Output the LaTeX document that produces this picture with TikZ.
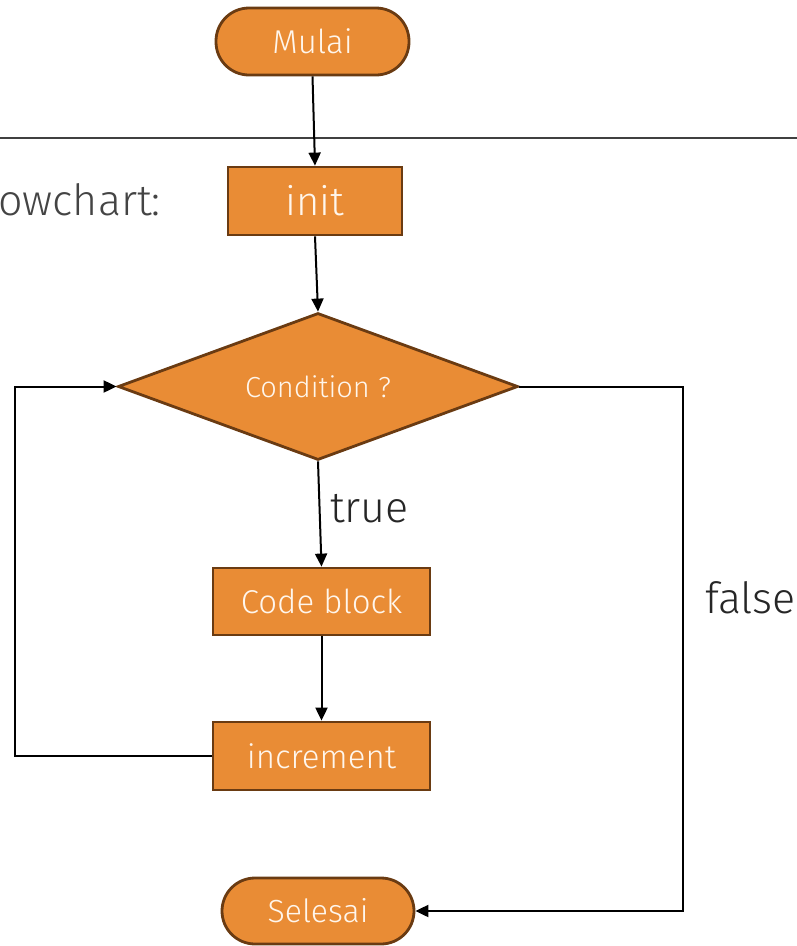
\documentclass[tikz,border=0pt]{standalone}
\usepackage{fontspec}
\setmainfont{Fira Sans Light}
\usetikzlibrary{shapes.geometric,arrows.meta}
\definecolor{boxfill}{HTML}{E98C35}
\definecolor{boxline}{HTML}{6A3B12}
\definecolor{rulegray}{HTML}{404040}
\definecolor{labgray}{HTML}{444444}
\definecolor{boxtext}{HTML}{FFF6EC}
\begin{document}
\begin{tikzpicture}[x=1pt,y=-1pt,
  box/.style={draw=boxline,fill=boxfill,line width=2.8pt,text=boxtext,inner sep=0pt,rectangle,font=\fontsize{33}{36}\selectfont},
  stadium/.style={box,rounded corners=33pt},
  decision/.style={draw=boxline,fill=boxfill,line width=2.8pt,text=boxtext,inner sep=0pt,diamond,aspect=2.72,minimum width=400pt,minimum height=147pt,font=\fontsize{29}{32}\selectfont},
  arr/.style={line width=2pt,-{Triangle[length=13pt,width=12pt]}},
  lbl/.style={text=black!85,font=\fontsize{43}{46}\selectfont,inner sep=0pt}
]
\useasboundingbox (0,0) rectangle (797,946);
\draw[rulegray,line width=2pt] (0,138) -- (797,138);
\node[anchor=east,text=labgray,font=\fontsize{43}{46}\selectfont,inner sep=0pt] (fc) at (161,200) {owchart:};

\node[stadium,minimum width=193pt,minimum height=67pt] (mulai) at (312.5,41.5) {Mulai};
\node[box,minimum width=174pt,minimum height=68pt,font=\fontsize{40}{44}\selectfont] (init) at (315,201) {init};
\node[decision] (cond) at (318,386.5) {Condition ?};
\node[box,minimum width=217pt,minimum height=67pt] (code) at (321.5,601.5) {Code block};
\node[box,minimum width=217pt,minimum height=68pt] (inc) at (321.5,756) {increment};
\node[stadium,minimum width=192pt,minimum height=66pt,font=\fontsize{32}{35}\selectfont] (sel) at (318,911) {Selesai};

\node[lbl,anchor=west] (t) at (330,509) {true};
\node[lbl,anchor=west] (f) at (705,598) {false};

\coordinate (L) at (15,756);
\coordinate (R) at (683,386.5);

\draw[arr] (mulai.south) -- (init.north);
\draw[arr] (init.south) -- (cond.north);
\draw[arr] (cond.south) -- (code.north);
\draw[arr] (code.south) -- (inc.north);
\draw[arr] (inc.west) -- (L) |- (cond.west);
\draw[arr] (cond.east) -- (R) |- (sel.east);
\end{tikzpicture}
\end{document}
